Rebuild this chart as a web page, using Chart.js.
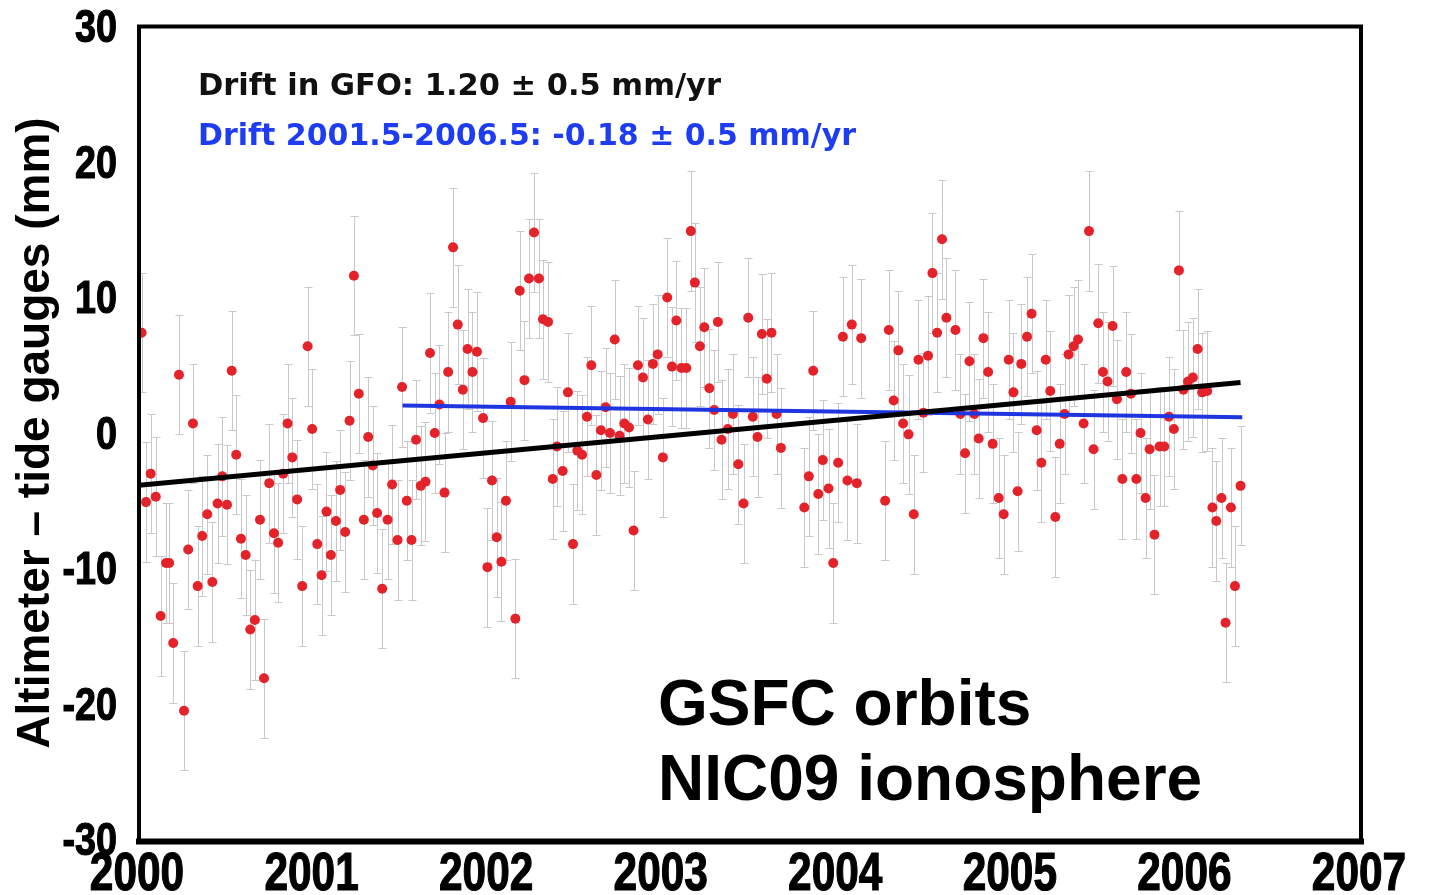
<!DOCTYPE html>
<html>
<head>
<meta charset="utf-8">
<script src="https://cdn.jsdelivr.net/npm/chart.js@4.4.1/dist/chart.umd.min.js"></script>
<style>
  html, body { margin: 0; padding: 0; background: #ffffff; }
  #wrap { width: 1429px; height: 895px; position: relative; }
  canvas { display: block; }
</style>
</head>
<body>
<div id="wrap"><canvas id="chart" width="1429" height="895"></canvas></div>
<script>
// Cycle epochs (decimal year) and altimeter minus tide-gauge residuals (mm)
const cycleYears = [
  2000.015, 2000.040, 2000.067, 2000.096, 2000.124, 2000.155, 2000.173, 2000.196, 2000.229, 2000.258,
  2000.282, 2000.309, 2000.336, 2000.362, 2000.391, 2000.420, 2000.450, 2000.477, 2000.504, 2000.531,
  2000.557, 2000.584, 2000.611, 2000.637, 2000.664, 2000.693, 2000.716, 2000.746, 2000.773, 2000.797,
  2000.826, 2000.851, 2000.878, 2000.906, 2000.935, 2000.966, 2000.992, 2001.021, 2001.046, 2001.074,
  2001.099, 2001.128, 2001.152, 2001.181, 2001.206, 2001.231, 2001.259, 2001.288, 2001.313, 2001.339,
  2001.364, 2001.393, 2001.424, 2001.450, 2001.481, 2001.507, 2001.534, 2001.561, 2001.587, 2001.614,
  2001.641, 2001.667, 2001.694, 2001.721, 2001.750, 2001.771,
  2001.799, 2001.826, 2001.855, 2001.882, 2001.910, 2001.936, 2001.971, 2001.996, 2002.022, 2002.049,
  2002.076, 2002.102, 2002.129, 2002.156, 2002.181, 2002.208, 2002.234, 2002.263, 2002.291, 2002.314,
  2002.343, 2002.370, 2002.394, 2002.427, 2002.457, 2002.486, 2002.511, 2002.538, 2002.566, 2002.591,
  2002.620, 2002.646, 2002.673, 2002.698, 2002.725, 2002.753, 2002.780, 2002.807, 2002.833, 2002.858,
  2002.887, 2002.915, 2002.944, 2002.971, 2003.001, 2003.026, 2003.053, 2003.078, 2003.107, 2003.135,
  2003.161, 2003.184, 2003.213, 2003.238, 2003.267, 2003.295, 2003.316, 2003.337,
  2003.373, 2003.402, 2003.433, 2003.463, 2003.490, 2003.516, 2003.543, 2003.568, 2003.596, 2003.623,
  2003.652, 2003.677, 2003.811, 2003.837, 2003.862, 2003.891, 2003.917, 2003.950, 2003.977, 2004.005,
  2004.032, 2004.058, 2004.083, 2004.112, 2004.137, 2004.274, 2004.295, 2004.323, 2004.350, 2004.377,
  2004.408, 2004.438, 2004.465, 2004.493, 2004.520, 2004.545, 2004.572, 2004.600, 2004.625, 2004.677,
  2004.705, 2004.732, 2004.757, 2004.785, 2004.810, 2004.837, 2004.864, 2004.890, 2004.925, 2004.953,
  2004.982, 2005.009, 2005.033,
  2005.054, 2005.087, 2005.113, 2005.142, 2005.169, 2005.194, 2005.220, 2005.249, 2005.274, 2005.302,
  2005.325, 2005.354, 2005.379, 2005.411, 2005.442, 2005.468, 2005.495, 2005.522, 2005.548, 2005.577,
  2005.602, 2005.633, 2005.655, 2005.682, 2005.713, 2005.737, 2005.766, 2005.789, 2005.817, 2005.846,
  2005.873, 2005.900, 2005.928, 2005.957, 2005.983, 2006.009, 2006.037, 2006.064, 2006.090, 2006.119,
  2006.149, 2006.171, 2006.201, 2006.224, 2006.255, 2006.278, 2006.310
];
const residualsMm = [
  7.4, -5.1, -3.0, -4.7, -13.5, -9.6, -9.6, -15.5, 4.3, -20.5,
  -8.6, 0.7, -11.3, -7.6, -6.0, -11.0, -5.2, -3.2, -5.3, 4.6,
  -1.6, -7.8, -9.0, -14.5, -13.8, -6.4, -18.1, -3.7, -7.4, -8.1,
  -3.0, 0.7, -1.8, -4.9, -11.3, 6.4, 0.3, -8.2, -10.5, -5.8,
  -9.0, -6.5, -4.2, -7.3, 0.9, 11.6, 2.9, -6.4, -0.3, -2.4,
  -5.9, -11.5, -6.4, -3.8, -7.9, 3.4, -5.0, -7.9, -0.5, -3.9,
  -3.6, 5.9, 0.0, 2.1, -4.4, 4.5,
  13.7, 8.0, 3.2, 6.2, 4.5, 6.0, 1.1, -9.9, -3.5, -7.7,
  -9.5, -5.0, 2.3, -13.7, 10.5, 3.9, 11.4, 14.8, 11.4, 8.4,
  8.2, -3.4, -1.0, -2.8, 3.0, -8.2, -1.3, -1.6, 1.2, 5.0,
  -3.1, 0.2, 1.9, 0.0, 6.9, -0.2, 0.7, 0.4, -7.2, 5.0,
  4.1, 1.0, 5.1, 5.8, -1.8, 10.0, 4.9, 8.3, 4.8, 4.8,
  14.9, 11.1, 6.4, 7.8, 3.3, 1.7, 8.2, -0.5,
  0.3, 1.4, -2.3, -5.2, 8.5, 1.2, -0.3, 7.3, 4.0, 7.4,
  1.4, -1.1, -5.5, -3.2, 4.6, -4.5, -2.0, -4.1, -9.6, -2.2,
  7.1, -3.5, 8.0, -3.7, 7.0, -5.0, 7.6, 2.4, 6.1, 0.7,
  -0.1, -6.0, 5.4, 1.5, 5.7, 11.8, 7.4, 14.3, 8.5, 7.6,
  1.4, -1.5, 5.3, 1.4, -0.4, 7.0, 4.5, -0.8, -4.8, -6.0,
  5.4, 3.0, -4.3,
  5.1, 7.1, 8.8, 0.2, -2.2, 5.4, 3.1, -6.2, -0.8, 1.4,
  5.8, 6.4, 6.9, 0.7, 14.9, -1.2, 8.1, 4.5, 3.8, 7.9,
  2.5, -3.4, 4.5, 2.9, -3.4, 0.0, -4.8, -1.2, -7.5, -1.0,
  -1.0, 1.2, 0.3, 12.0, 3.2, 3.8, 4.1, 6.2, 3.0, 3.1,
  -5.5, -6.5, -4.8, -14.0, -5.5, -11.3, -3.9
];
// One-sigma uncertainty of each cycle mean (mm)
const residualSigmaMm = 4.4;

// Linear drift fits
const gfoDriftMmPerYr = 1.20;
const gfoFitStart = [2000.0, -3.85];
const gfoFitEndYear = 2006.31;
const recentDriftMmPerYr = -0.18;
const recentFitStart = [2001.51, 2.03];
const recentFitEndYear = 2006.32;

// Axis ticks
const yearTicks = [2000, 2001, 2002, 2003, 2004, 2005, 2006, 2007];
const mmTicks = [-30, -20, -10, 0, 10, 20, 30];

const noteGfo = 'Drift in GFO: 1.20 \u00b1 0.5 mm/yr';
const noteRecent = 'Drift 2001.5-2006.5: -0.18 \u00b1 0.5 mm/yr';
const labelOrbits = 'GSFC orbits';
const labelIono = 'NIC09 ionosphere';

const tickFamily = '"Liberation Sans", Arial, sans-serif';

function fitLine(start, slope, endYear) {
  return [
    { x: start[0], y: start[1] },
    { x: endYear, y: start[1] + slope * (endYear - start[0]) }
  ];
}

const points = cycleYears.map((t, i) => ({ x: t, y: residualsMm[i] }));

const errorBarPlugin = {
  id: 'errorBars',
  beforeDatasetsDraw(chart) {
    const { ctx, scales: { x, y } } = chart;
    ctx.save();
    ctx.strokeStyle = '#c8c8c8';
    ctx.lineWidth = 1;
    ctx.beginPath();
    cycleYears.forEach((t, i) => {
      const px = Math.round(x.getPixelForValue(t)) + 0.5;
      const top = Math.round(y.getPixelForValue(residualsMm[i] + residualSigmaMm)) + 0.5;
      const bot = Math.round(y.getPixelForValue(residualsMm[i] - residualSigmaMm)) + 0.5;
      ctx.moveTo(px, top); ctx.lineTo(px, bot);
      ctx.moveTo(px - 4, top); ctx.lineTo(px + 4, top);
      ctx.moveTo(px - 4, bot); ctx.lineTo(px + 4, bot);
    });
    ctx.stroke();
    ctx.restore();
  }
};

const framePlugin = {
  id: 'frame',
  afterDraw(chart) {
    const { ctx, chartArea: a } = chart;
    ctx.save();
    ctx.strokeStyle = '#000';
    ctx.lineCap = 'square';
    ctx.lineWidth = 4;
    ctx.beginPath();
    ctx.moveTo(a.left, a.bottom); ctx.lineTo(a.left, a.top);
    ctx.lineTo(a.right, a.top); ctx.lineTo(a.right, a.bottom);
    ctx.stroke();
    ctx.lineWidth = 6;
    ctx.beginPath();
    ctx.moveTo(a.left, a.bottom + 2); ctx.lineTo(a.right, a.bottom + 2);
    ctx.stroke();
    ctx.restore();
  }
};

// Heavy condensed tick numerals, placed by each axis' own tick pixels
function drawCondensed(ctx, text, x, y, size, squeeze, align) {
  ctx.save();
  ctx.font = 'bold ' + size + 'px ' + tickFamily;
  ctx.textBaseline = 'middle';
  ctx.textAlign = align;
  ctx.translate(x, y);
  ctx.scale(squeeze, 1);
  ctx.lineWidth = 1.2;
  ctx.strokeStyle = '#000';
  ctx.strokeText(text, 0, 0);
  ctx.fillText(text, 0, 0);
  ctx.restore();
}

const tickLabelPlugin = {
  id: 'tickLabels',
  afterDraw(chart) {
    const { ctx, scales: { x, y } } = chart;
    ctx.save();
    ctx.fillStyle = '#000';
    y.ticks.forEach(t => {
      drawCondensed(ctx, String(t.value), 117, y.getPixelForValue(t.value) + 3, 46, 0.82, 'right');
    });
    x.ticks.forEach(t => {
      drawCondensed(ctx, String(t.value), x.getPixelForValue(t.value) - 2, 875, 53, 0.8, 'center');
    });
    ctx.restore();
  }
};

const notesPlugin = {
  id: 'notes',
  afterDraw(chart) {
    const ctx = chart.ctx;
    ctx.save();
    ctx.textAlign = 'left';
    ctx.textBaseline = 'alphabetic';
    ctx.font = 'bold 30.5px "DejaVu Sans", sans-serif';
    ctx.fillStyle = '#111111';
    ctx.fillText(noteGfo, 198, 95);
    ctx.font = 'bold 30px "DejaVu Sans", sans-serif';
    ctx.fillStyle = '#1e3cf2';
    ctx.fillText(noteRecent, 198, 145);
    ctx.font = 'bold 64px "Liberation Sans", Arial, sans-serif';
    ctx.fillStyle = '#000000';
    ctx.fillText(labelOrbits, 658, 725);
    ctx.fillText(labelIono, 658, 800);
    ctx.restore();
  }
};

new Chart(document.getElementById('chart'), {
  type: 'scatter',
  data: {
    datasets: [
      {
        label: 'GFO drift',
        type: 'line',
        data: fitLine(gfoFitStart, gfoDriftMmPerYr, gfoFitEndYear),
        borderColor: '#000000',
        borderWidth: 5,
        pointRadius: 0,
        fill: false,
        order: 0
      },
      {
        label: 'Drift 2001.5-2006.5',
        type: 'line',
        data: fitLine(recentFitStart, recentDriftMmPerYr, recentFitEndYear),
        borderColor: '#1f35e0',
        borderWidth: 4,
        pointRadius: 0,
        fill: false,
        order: 0
      },
      {
        label: 'Altimeter - tide gauges',
        data: points,
        backgroundColor: '#e3222a',
        borderWidth: 0,
        pointRadius: 5,
        pointHoverRadius: 5,
        order: 1
      }
    ]
  },
  options: {
    responsive: false,
    animation: false,
    devicePixelRatio: 1,
    layout: { padding: { left: 0, top: 26.5, right: 68, bottom: 0 } },
    plugins: { legend: { display: false }, tooltip: { enabled: false } },
    scales: {
      x: {
        type: 'linear',
        position: 'bottom',
        min: 2000,
        max: 2007,
        afterBuildTicks(scale) { scale.ticks = yearTicks.map(v => ({ value: v })); },
        afterFit(scale) {
          scale.height = 55.5;
          scale.paddingLeft = 0; scale.paddingRight = 0;
        },
        grid: { display: false, drawTicks: false },
        border: { display: false },
        ticks: { display: false }
      },
      y: {
        type: 'linear',
        min: -30,
        max: 30,
        afterBuildTicks(scale) { scale.ticks = mmTicks.map(v => ({ value: v })); },
        afterFit(scale) {
          scale.width = 139;
          scale.paddingTop = 0; scale.paddingBottom = 0;
        },
        grid: { display: false, drawTicks: false },
        border: { display: false },
        ticks: { display: false },
        title: {
          display: true,
          text: 'Altimeter \u2013 tide gauges (mm)',
          color: '#000',
          font: { family: '"Liberation Sans", Arial, sans-serif', size: 46, weight: 'bold', lineHeight: 1.2 },
          padding: { top: 9, bottom: 0 }
        }
      }
    }
  },
  plugins: [errorBarPlugin, framePlugin, tickLabelPlugin, notesPlugin]
});
</script>
</body>
</html>
